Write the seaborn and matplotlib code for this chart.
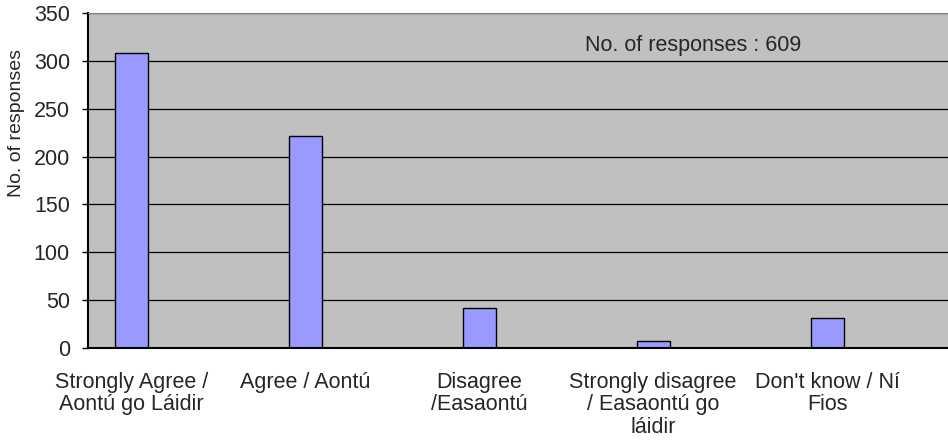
import numpy as np
import pandas as pd
import matplotlib
matplotlib.use("Agg")
import matplotlib.pyplot as plt
import seaborn as sns

# categories (every answer is followed by an empty slot, as in the original sheet)
categories = [
    "Strongly Agree /\nAontú go Láidir",
    "Agree / Aontú",
    "Disagree\n/Easaontú",
    "Strongly disagree\n/ Easaontú go\nláidir",
    "Don't know / Ní\nFios",
]
responses = [308, 221, 42, 7, 31]
y_ticks = [0, 50, 100, 150, 200, 250, 300, 350]
note = "No. of responses : 609"

slots = []
for i, c in enumerate(categories):
    slots.append(c)
    slots.append("_gap%d" % i)

df = pd.DataFrame({"answer": categories, "count": responses})

sns.set_style("white")
plt.rcParams["font.family"] = ["Liberation Sans", "DejaVu Sans"]

fig = plt.figure(figsize=(9.48, 4.41), dpi=100)
ax = fig.add_axes([88 / 948, 93 / 441, 869.5 / 948, 335 / 441])
ax.set_facecolor("#C0C0C0")

sns.barplot(data=df, x="answer", y="count", order=slots, color="#9999FF",
            saturation=1, width=0.38, edgecolor="black", linewidth=1, ax=ax)

ax.set_xlim(-0.5, len(slots) - 0.5)
ax.set_ylim(0, 350)
ax.set_yticks(y_ticks)
ax.set_axisbelow(True)
ax.yaxis.grid(True, color="black", linewidth=0.9)

ax.set_xticks(range(0, len(slots), 2))
ax.set_xticklabels(categories, fontsize=15.5, linespacing=1.1)
ax.set_xticks(np.arange(-0.5, len(slots)), minor=True)
ax.tick_params(axis="x", which="major", length=0, pad=17)
ax.tick_params(axis="x", which="minor", direction="out", length=5, width=1, color="black")
ax.tick_params(axis="y", direction="out", length=4, width=1, color="black", labelsize=15.5, pad=9)
ax.tick_params(left=True)

for side in ["left", "bottom"]:
    ax.spines[side].set_color("black")
    ax.spines[side].set_linewidth(1.5)
ax.spines["top"].set_color("#808080")
ax.spines["right"].set_visible(False)

ax.set_xlabel("")
ax.set_ylabel("No. of responses", fontsize=14)
ax.yaxis.set_label_coords(-0.0725, 0.672)

ax.text(5.216, 309.8, note, fontsize=15.5, va="baseline", ha="left")

fig.savefig("out.png", dpi=100)
